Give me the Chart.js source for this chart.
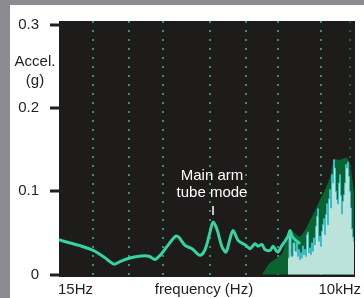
<!DOCTYPE html>
<html><head><meta charset="utf-8">
<script src="https://cdn.jsdelivr.net/npm/chart.js@4.4.0/dist/chart.umd.min.js"></script>
<style>html,body{margin:0;padding:0;background:#fff;}#wrap{position:relative;width:364px;height:298px;}</style>
</head><body><div id="wrap"><canvas id="c" width="364" height="298"></canvas></div>
<script>
// frequency axis (Hz) and acceleration (g)
const mainFreq = [15,16.7,23.3,31.7,40.3,50.2,56.1,69.8,87,108,124,138,147,164,192,205,214,239,279,332,371,414,442,483,539,588,642,686,766,854,912,996,1112,1188,1297,1385,1547,1652,1764,1843,2012,2149,2295,2400,2507,2677,2989];
const mainAcc  = [0.042,0.040,0.035,0.029,0.021,0.0124,0.015,0.0195,0.022,0.022,0.018,0.023,0.027,0.035,0.0456,0.0456,0.043,0.035,0.031,0.023,0.030,0.051,0.063,0.054,0.033,0.027,0.043,0.053,0.041,0.037,0.035,0.031,0.037,0.034,0.036,0.030,0.029,0.034,0.029,0.027,0.035,0.040,0.046,0.053,0.046,0.042,0.037];
const envFreq = [1300,1547,2012,2400,2989,3724,4638,5177,5777,6309,7196,8392,8964,9788];
const envAcc  = [0.000,0.014,0.025,0.053,0.046,0.065,0.090,0.102,0.117,0.138,0.138,0.140,0.132,0.100];
const spikeFreq = [2295,2400,2507,2620,2738,2799,2861,2924,2989,3056,3123,3193,3263,3336,3410,3486,3563,3642,3724,3806,3891,3977,4066,4156,4247,4342,4438,4537,4638,4741,4846,4954,5064,5177,5289,5407,5529,5652,5777,5905,6036,6170,6309,6449,6591,6738,6887,7040,7196,7356,7520,7686,7859,8031,8210,8392,8579,8769,8964,9163,9366,9574,9788];
const spikeAcc  = [0.020,0.050,0.022,0.038,0.028,0.040,0.022,0.030,0.018,0.026,0.020,0.034,0.024,0.030,0.022,0.048,0.051,0.026,0.032,0.024,0.038,0.028,0.044,0.036,0.058,0.070,0.079,0.040,0.046,0.034,0.052,0.060,0.067,0.048,0.072,0.085,0.060,0.091,0.102,0.080,0.120,0.110,0.138,0.128,0.100,0.090,0.085,0.110,0.120,0.095,0.073,0.088,0.096,0.110,0.132,0.128,0.135,0.118,0.100,0.080,0.055,0.045,0.040];
const gridFreq = [31.7,69.8,147,414,912,1843,4740,8965];
const yTicks = [0,0.1,0.2,0.3];
const xLabels = ['15Hz','frequency (Hz)','10kHz'];
const yTitle = ['Accel.','(g)'];
const note = ['Main arm','tube mode'];

const toXY = (fs, vs) => fs.map((f,i)=>({x:f,y:vs[i]}));
const FONT = '15px "Liberation Sans", Arial, sans-serif';

const deco = {
  id:'deco',
  beforeDraw(chart){
    const {ctx, chartArea:a} = chart;
    ctx.save();
    ctx.fillStyle='#fff'; ctx.fillRect(0,0,364,298);
    ctx.fillStyle='#8b8c8f'; ctx.fillRect(0,0,364,5); ctx.fillRect(0,0,10,298);
    ctx.fillStyle='#1e1b1b'; ctx.fillRect(a.left,a.top,a.right-a.left,a.bottom-a.top);
    ctx.restore();
  },
  afterDraw(chart){
    const ctx = chart.ctx, a = chart.chartArea;
    const ys = chart.scales.y;
    ctx.save();
    ctx.fillStyle='#231f20';
    for (const v of yTicks) {
      const py = Math.round(ys.getPixelForValue(v));
      ctx.fillRect(a.left-9, py-1.5, 10, 3);
    }
    ctx.font = FONT; ctx.textBaseline='middle';
    ctx.textAlign='center';
    ctx.fillText(yTitle[0], 35, 62);
    ctx.fillText(yTitle[1], 35, 81);
    ctx.textAlign='left'; ctx.fillText(xLabels[0], a.left-1, 290);
    ctx.textAlign='center'; ctx.fillText(xLabels[1], 204, 290);
    ctx.textAlign='right'; ctx.fillText(xLabels[2], 361, 290);
    const xs = chart.scales.x.getPixelForValue(442);
    ctx.fillStyle='#fff'; ctx.textAlign='center';
    ctx.fillText(note[0], xs-1, 176);
    ctx.fillText(note[1], xs-1, 193);
    ctx.strokeStyle='#fff'; ctx.lineWidth=1.5;
    ctx.beginPath(); ctx.moveTo(xs,206); ctx.lineTo(xs,215); ctx.stroke();
    ctx.restore();
  }
};

new Chart(document.getElementById('c'), {
  type:'line',
  data:{datasets:[
    {data:toXY(mainFreq,mainAcc), borderColor:'#36d3a3', borderWidth:3, pointRadius:0, tension:0.3, fill:false, order:0},
    {data:toXY(spikeFreq,spikeAcc), borderColor:'#3cbcc6', backgroundColor:'rgba(207,239,240,0.9)', borderWidth:1, pointRadius:0, stepped:'middle', fill:'origin', order:1},
    {data:toXY(envFreq,envAcc), borderColor:'rgba(0,0,0,0)', backgroundColor:'#0b6430', borderWidth:0, pointRadius:0, tension:0.3, fill:'origin', order:2}
  ]},
  options:{
    responsive:false, animation:false, events:[],
    layout:{padding:{left:0,top:19,right:9,bottom:0}},
    plugins:{legend:{display:false}, tooltip:{enabled:false}},
    scales:{
      x:{type:'logarithmic', min:15, max:10000,
         afterBuildTicks:(s)=>{s.ticks = gridFreq.map(v=>({value:v}));},
         afterFit:(s)=>{s.height=19;},
         ticks:{display:false},
         grid:{color:(c)=> c.index===gridFreq.length-1 ? 'rgba(30,120,80,0.7)' : 'rgba(45,165,115,0.9)', lineWidth:2, tickLength:0, drawTicks:false},
         border:{display:false, dash:[2,7]}},
      y:{min:-0.003, max:0.3047,
         afterBuildTicks:(s)=>{s.ticks = yTicks.map(v=>({value:v}));},
         afterFit:(s)=>{s.width=59;},
         ticks:{font:{family:'"Liberation Sans", Arial, sans-serif', size:15}, color:'#231f20', padding:12,
                callback:(v)=> String(v)},
         grid:{display:false},
         border:{display:false}}
    }
  },
  plugins:[deco]
});
</script></body></html>
